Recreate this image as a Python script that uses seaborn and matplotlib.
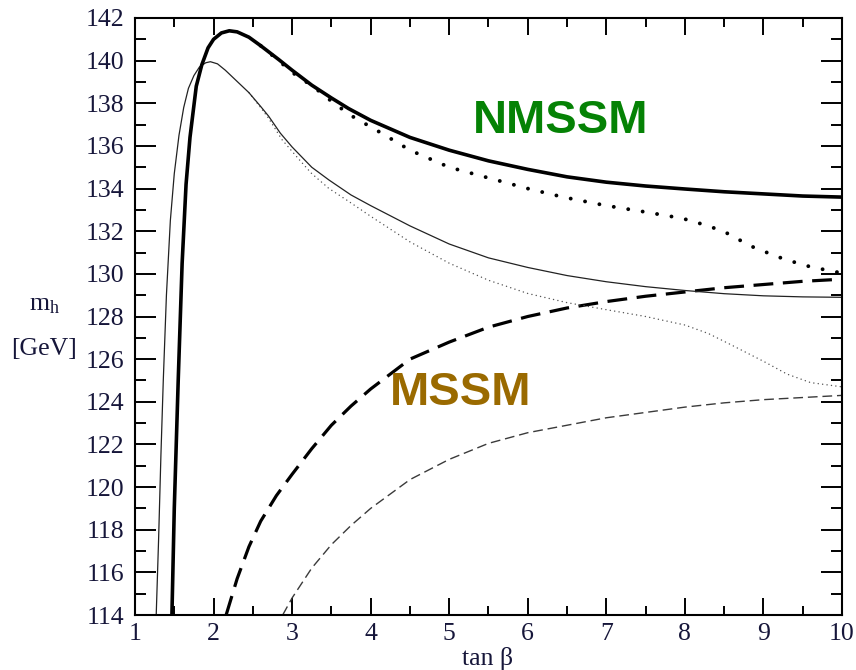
import matplotlib
matplotlib.use("Agg")
import matplotlib.pyplot as plt
import seaborn as sns
import numpy as np

# ---------------- data ----------------
# NMSSM, heavy (thick solid)
nm_heavy_x = [1.47, 1.50, 1.55, 1.60, 1.65, 1.70, 1.78, 1.85, 1.93, 2.00, 2.10, 2.20, 2.30, 2.45, 2.60,
              2.83, 3.00, 3.25, 3.50, 3.72, 4.00, 4.50, 5.00, 5.50, 6.00, 6.50, 7.00, 7.50, 8.00, 8.50,
              9.00, 9.50, 10.0]
nm_heavy_y = [114.0, 119.0, 125.0, 130.5, 134.2, 136.4, 138.8, 139.8, 140.6, 141.0, 141.3, 141.4, 141.35,
              141.1, 140.7, 140.05, 139.55, 138.85, 138.25, 137.75, 137.2, 136.4, 135.8, 135.3, 134.9, 134.55,
              134.3, 134.12, 133.98, 133.85, 133.75, 133.65, 133.6]
# NMSSM, heavy variant (thick dotted)
nm_heavy2_x = [2.60, 2.83, 3.00, 3.28, 3.50, 3.72, 3.85, 4.00, 4.32, 4.50, 5.00, 5.50, 6.00, 6.45, 7.00,
               7.50, 7.97, 8.25, 8.49, 8.84, 9.18, 9.52, 9.90, 10.0]
nm_heavy2_y = [140.7, 140.0, 139.45, 138.75, 138.1, 137.5, 137.2, 136.9, 136.2, 135.8, 135.0, 134.5, 134.0,
               133.6, 133.2, 132.9, 132.6, 132.3, 132.0, 131.3, 130.8, 130.4, 130.1, 130.05]
# NMSSM, light (thin solid)
nm_light_x = [1.27, 1.30, 1.33, 1.36, 1.40, 1.45, 1.50, 1.56, 1.62, 1.68, 1.75, 1.82, 1.90, 1.96, 2.05,
              2.15, 2.25, 2.35, 2.45, 2.60, 2.70, 2.85, 3.00, 3.25, 3.47, 3.75, 4.00, 4.50, 5.00, 5.50,
              6.00, 6.50, 7.00, 7.50, 8.00, 8.50, 9.00, 9.50, 10.0]
nm_light_y = [114.0, 117.5, 121.5, 125.0, 129.0, 132.5, 134.7, 136.5, 137.8, 138.7, 139.3, 139.7, 139.9,
              139.95, 139.85, 139.55, 139.2, 138.85, 138.5, 137.85, 137.4, 136.6, 135.95, 135.0, 134.4,
              133.7, 133.2, 132.25, 131.4, 130.75, 130.3, 129.92, 129.63, 129.4, 129.22, 129.07, 128.97,
              128.92, 128.9]
# NMSSM, light variant (thin dotted)
nm_light2_x = [2.45, 2.60, 2.70, 2.87, 3.08, 3.25, 3.47, 3.72, 4.00, 4.50, 5.00, 5.50, 6.00, 6.50, 7.00,
               7.50, 8.00, 8.30, 8.60, 9.00, 9.30, 9.60, 10.0]
nm_light2_y = [138.5, 137.8, 137.3, 136.3, 135.4, 134.7, 134.0, 133.4, 132.7, 131.5, 130.5, 129.7, 129.08,
               128.65, 128.32, 128.0, 127.6, 127.2, 126.65, 125.9, 125.3, 124.9, 124.7]
# MSSM, heavy (thick dashed)
ms_heavy_x = [2.16, 2.30, 2.45, 2.60, 2.80, 3.00, 3.25, 3.50, 3.75, 4.00, 4.50, 5.00, 5.50, 6.00, 6.50,
              7.00, 7.50, 8.00, 8.50, 9.00, 9.50, 10.0]
ms_heavy_y = [114.0, 115.7, 117.2, 118.4, 119.6, 120.6, 121.8, 122.9, 123.8, 124.6, 126.0, 126.8, 127.5,
              128.0, 128.4, 128.7, 128.95, 129.15, 129.35, 129.5, 129.65, 129.75]
# MSSM, light (thin dashed)
ms_light_x = [2.88, 3.00, 3.25, 3.50, 3.75, 4.00, 4.50, 5.00, 5.50, 6.00, 6.50, 7.00, 7.50, 8.00, 8.50,
              9.00, 9.50, 10.0]
ms_light_y = [114.0, 114.8, 116.2, 117.3, 118.2, 119.0, 120.35, 121.3, 122.05, 122.55, 122.9, 123.25,
              123.5, 123.75, 123.95, 124.1, 124.2, 124.3]

x_ticks = [1, 2, 3, 4, 5, 6, 7, 8, 9, 10]
y_ticks = [114, 116, 118, 120, 122, 124, 126, 128, 130, 132, 134, 136, 138, 140, 142]
labels = ["NMSSM", "MSSM"]

# ---------------- style ----------------
sns.set_theme(style="ticks")
plt.rcParams["font.family"] = ["Liberation Serif", "DejaVu Serif"]
plt.rcParams["mathtext.fontset"] = "custom"
plt.rcParams["mathtext.rm"] = "Liberation Serif"
plt.rcParams["mathtext.it"] = "Liberation Serif:italic"

fig = plt.figure(figsize=(8.56, 6.70), dpi=100)
W, H = 856, 670
L, R, T, B = 135, 842, 18, 615
ax = fig.add_axes([L / W, 1 - B / H, (R - L) / W, (B - T) / H])

def draw(x, y, lw, ls, color="black", cap="butt"):
    sns.lineplot(x=x, y=y, ax=ax, color=color, linewidth=lw, linestyle=ls,
                 sort=False, estimator=None, dash_capstyle=cap, solid_capstyle="round")

draw(ms_light_x, ms_light_y, 1.0, (0, (7, 3.5)), color="#3a3a3a")
draw(ms_heavy_x, ms_heavy_y, 2.3, (0, (6.2, 3.0)))
draw(nm_light2_x, nm_light2_y, 1.1, (0, (0.01, 2.9)), color="#555555", cap="round")
draw(nm_light_x, nm_light_y, 0.9, "-", color="#222222")
draw(nm_heavy2_x, nm_heavy2_y, 2.8, (0, (0.01, 3.75)), cap="round")
draw(nm_heavy_x, nm_heavy_y, 2.6, "-")

ax.set_xlim(1, 10)
ax.set_ylim(114, 142)
ax.set_xticks(x_ticks)
ax.set_yticks(y_ticks)
ax.set_xticks(np.arange(1.5, 10, 1.0), minor=True)
ax.set_yticks(np.arange(115, 142, 2), minor=True)

tick_color = "#16163a"
ax.tick_params(axis="both", which="both", direction="in", top=True, right=True,
               colors="black", labelcolor=tick_color, width=1.4)
ax.tick_params(axis="y", which="major", length=15, labelsize=18.5, pad=8)
ax.tick_params(axis="y", which="minor", length=8)
ax.tick_params(axis="x", which="major", length=12.5, labelsize=18.5, pad=6)
ax.tick_params(axis="x", which="minor", length=6.5)
for s in ax.spines.values():
    s.set_visible(True)
    s.set_linewidth(1.5)
    s.set_color("black")

ax.set_xlabel("")
ax.set_ylabel("")

# axis titles
fig.text(488 / W, 1 - 659 / H, "tan β", ha="center", va="center", fontsize=18.5, color=tick_color)
fig.text(44 / W, 1 - 305 / H, r"m$_\mathrm{h}$", ha="center", va="center", fontsize=18.5, color=tick_color)
fig.text(44 / W, 1 - 349 / H, "[GeV]", ha="center", va="center", fontsize=18.5, color=tick_color)

# model labels
ax.text(5.30, 136.6, labels[0], ha="left", va="baseline", fontsize=34, fontweight="bold",
        color="#058205", family=["Liberation Sans", "DejaVu Sans"])
ax.text(4.25, 123.85, labels[1], ha="left", va="baseline", fontsize=34, fontweight="bold",
        color="#9a6a00", family=["Liberation Sans", "DejaVu Sans"])

if ax.get_legend() is not None:
    ax.get_legend().remove()

fig.savefig("out.png", dpi=100)
